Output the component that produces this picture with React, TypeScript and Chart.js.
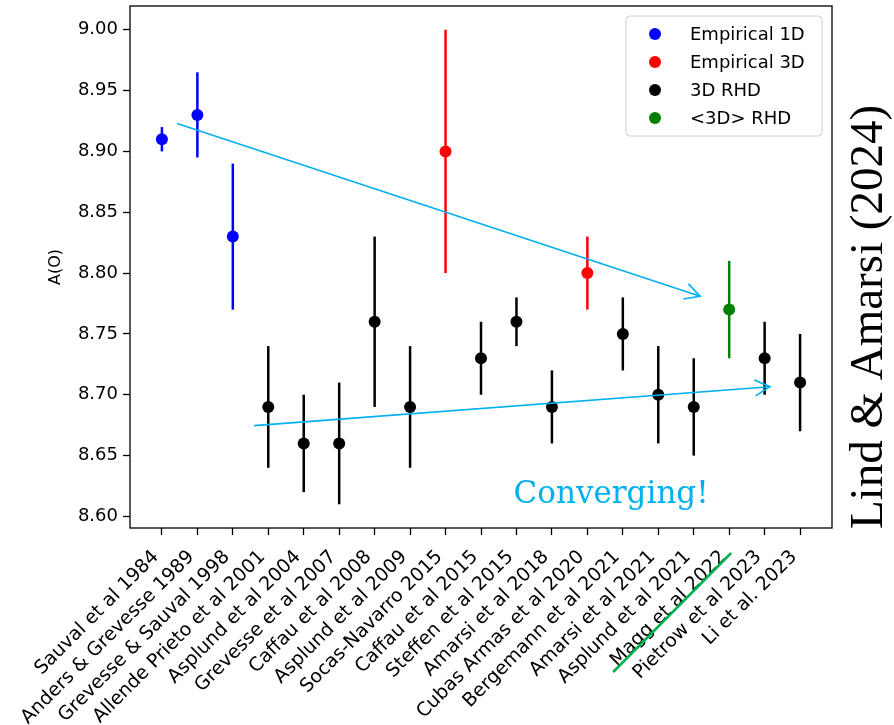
import React, { useEffect, useRef } from "react";
import { Chart, registerables } from "chart.js";

Chart.register(...registerables);

// ---------- data ----------
const categories = [
  "Sauval et al 1984",
  "Anders & Grevesse 1989",
  "Grevesse & Sauval 1998",
  "Allende Prieto et al 2001",
  "Asplund et al 2004",
  "Grevesse et al 2007",
  "Caffau et al 2008",
  "Asplund et al 2009",
  "Socas-Navarro 2015",
  "Caffau et al 2015",
  "Steffen et al 2015",
  "Amarsi et al 2018",
  "Cubas Armas et al 2020",
  "Bergemann et al 2021",
  "Amarsi et al 2021",
  "Asplund et al 2021",
  "Magg et al 2022",
  "Pietrow et al 2023",
  "Li et al. 2023",
];
const values = [8.91, 8.93, 8.83, 8.69, 8.66, 8.66, 8.76, 8.69, 8.9, 8.73, 8.76, 8.69, 8.8, 8.75, 8.7, 8.69, 8.77, 8.73, 8.71];
const errors = [0.01, 0.035, 0.06, 0.05, 0.04, 0.05, 0.07, 0.05, 0.1, 0.03, 0.02, 0.03, 0.03, 0.03, 0.04, 0.04, 0.04, 0.03, 0.04];
// series index of each category
const groups = [0, 0, 0, 2, 2, 2, 2, 2, 1, 2, 2, 2, 1, 2, 2, 2, 3, 2, 2];
const seriesNames = ["Empirical 1D", "Empirical 3D", "3D RHD", "<3D> RHD"];
const seriesColors = ["#0000ff", "#ff0000", "#000000", "#008000"];
const yTickValues = [8.6, 8.65, 8.7, 8.75, 8.8, 8.85, 8.9, 8.95, 9.0];
const yLimits = [8.5905, 9.0195];
const xLimits = [-0.9, 18.9];
const yAxisTitle = "A(O)";

// annotations (data coordinates)
const trendDown = { from: [0.43, 8.923], to: [15.18, 8.781] };
const trendUp = { from: [2.6, 8.6746], to: [17.15, 8.7066] };
const convergingLabel = { text: "Converging!", x: 12.67, y: 8.611 };
const creditText = "Lind & Amarsi (2024)";
const struckLabel = "Magg et al 2022";

const ACCENT = "#00b0f0";

function drawArrow(ctx: CanvasRenderingContext2D, x1: number, y1: number, x2: number, y2: number) {
  ctx.beginPath();
  ctx.moveTo(x1, y1);
  ctx.lineTo(x2, y2);
  ctx.stroke();
  const ang = Math.atan2(y2 - y1, x2 - x1);
  const len = 17;
  const spread = (28 * Math.PI) / 180;
  ctx.beginPath();
  ctx.moveTo(x2 - len * Math.cos(ang - spread), y2 - len * Math.sin(ang - spread));
  ctx.lineTo(x2, y2);
  ctx.lineTo(x2 - len * Math.cos(ang + spread), y2 - len * Math.sin(ang + spread));
  ctx.stroke();
}

const errorBarPlugin = {
  id: "errorBars",
  beforeDatasetsDraw(chart: any) {
    const { ctx, scales } = chart;
    const x = scales.x;
    const y = scales.y;
    ctx.save();
    ctx.lineWidth = 2.5;
    values.forEach((v, i) => {
      const px = x.getPixelForValue(i);
      ctx.strokeStyle = seriesColors[groups[i]];
      ctx.beginPath();
      ctx.moveTo(px, y.getPixelForValue(v - errors[i]));
      ctx.lineTo(px, y.getPixelForValue(v + errors[i]));
      ctx.stroke();
    });
    ctx.restore();
  },
};

const decorPlugin = {
  id: "decor",
  afterDraw(chart: any) {
    const { ctx, chartArea, scales } = chart;
    const x = scales.x;
    const y = scales.y;
    ctx.save();

    // frame
    ctx.strokeStyle = "#000";
    ctx.lineWidth = 1.3;
    ctx.strokeRect(chartArea.left, chartArea.top, chartArea.right - chartArea.left, chartArea.bottom - chartArea.top);

    // trend arrows
    ctx.strokeStyle = ACCENT;
    ctx.lineWidth = 1.6;
    [trendDown, trendUp].forEach((a) => {
      drawArrow(
        ctx,
        x.getPixelForValue(a.from[0]),
        y.getPixelForValue(a.from[1]),
        x.getPixelForValue(a.to[0]),
        y.getPixelForValue(a.to[1])
      );
    });

    // Converging!
    ctx.fillStyle = ACCENT;
    ctx.font = "31px 'DejaVu Serif'";
    ctx.textAlign = "center";
    ctx.textBaseline = "alphabetic";
    ctx.fillText(convergingLabel.text, x.getPixelForValue(convergingLabel.x), y.getPixelForValue(convergingLabel.y));

    // credit text on the right
    ctx.save();
    ctx.fillStyle = "#000";
    ctx.font = "47px 'Liberation Serif'";
    ctx.translate(chartArea.right + 50, (chartArea.top + chartArea.bottom) / 2 + 50);
    ctx.rotate(-Math.PI / 2);
    ctx.textAlign = "center";
    ctx.textBaseline = "alphabetic";
    ctx.fillText(creditText, 0, 0);
    ctx.restore();

    // strike through struck label
    const si = categories.indexOf(struckLabel);
    if (si >= 0) {
      const tx = x.getPixelForValue(si);
      ctx.strokeStyle = "#00b050";
      ctx.lineWidth = 2.5;
      ctx.beginPath();
      ctx.moveTo(tx + 2, chartArea.bottom + 25);
      ctx.lineTo(tx - 116, chartArea.bottom + 144);
      ctx.stroke();
    }

    // legend
    const bw = 196;
    const bh = 120;
    const bx = chartArea.right - 10 - bw;
    const by = chartArea.top + 10;
    ctx.beginPath();
    ctx.roundRect(bx, by, bw, bh, 4);
    ctx.fillStyle = "rgba(255,255,255,0.8)";
    ctx.fill();
    ctx.strokeStyle = "#d0d0d0";
    ctx.lineWidth = 1;
    ctx.stroke();
    ctx.font = "18px 'DejaVu Sans'";
    ctx.textAlign = "left";
    ctx.textBaseline = "middle";
    seriesNames.forEach((name, i) => {
      const cy = by + 18 + i * 28;
      ctx.fillStyle = seriesColors[i];
      ctx.beginPath();
      ctx.arc(bx + 29, cy, 6, 0, Math.PI * 2);
      ctx.fill();
      ctx.fillStyle = "#000";
      ctx.fillText(name, bx + 64, cy + 1);
    });

    ctx.restore();
  },
};

export default function App() {
  const canvasRef = useRef<HTMLCanvasElement | null>(null);

  useEffect(() => {
    const canvas = canvasRef.current;
    if (!canvas) return;
    const datasets = seriesNames.map((name, g) => ({
      label: name,
      data: values
        .map((v, i) => ({ x: i, y: v, g: groups[i] }))
        .filter((p) => p.g === g)
        .map((p) => ({ x: p.x, y: p.y })),
      backgroundColor: seriesColors[g],
      borderColor: seriesColors[g],
      pointRadius: 6,
      pointBorderWidth: 0,
      showLine: false,
    }));

    const chart = new Chart(canvas, {
      type: "scatter",
      data: { datasets },
      options: {
        animation: false,
        responsive: false,
        maintainAspectRatio: false,
        devicePixelRatio: 1,
        layout: { padding: { top: 5, right: 62, left: 0, bottom: 0 } },
        plugins: {
          legend: { display: false },
          tooltip: { enabled: false },
        },
        scales: {
          x: {
            type: "linear",
            min: xLimits[0],
            max: xLimits[1],
            afterBuildTicks: (scale: any) => {
              scale.ticks = categories.map((_, i) => ({ value: i }));
            },
            afterFit: (scale: any) => {
              scale.height = 197;
              scale.paddingLeft = 0;
              scale.paddingRight = 0;
            },
            border: { display: false },
            grid: {
              display: true,
              drawOnChartArea: false,
              drawTicks: true,
              tickLength: 7,
              tickWidth: 1.3,
              tickColor: "#000",
            },
            ticks: {
              autoSkip: false,
              minRotation: 45,
              maxRotation: 45,
              padding: 11,
              labelOffset: -6,
              color: "#000",
              font: { family: "'DejaVu Sans'", size: 19 },
              callback: (v: any) => categories[Math.round(Number(v))] ?? "",
            },
          },
          y: {
            type: "linear",
            min: yLimits[0],
            max: yLimits[1],
            afterBuildTicks: (scale: any) => {
              scale.ticks = yTickValues.map((v) => ({ value: v }));
            },
            afterFit: (scale: any) => {
              scale.width = 130;
              scale.paddingTop = 0;
              scale.paddingBottom = 0;
            },
            border: { display: false },
            grid: {
              display: true,
              drawOnChartArea: false,
              drawTicks: true,
              tickLength: 7,
              tickWidth: 1.3,
              tickColor: "#000",
            },
            title: {
              display: true,
              text: yAxisTitle,
              color: "#000",
              font: { family: "'DejaVu Sans'", size: 16 },
              padding: { top: 46, bottom: 0 },
            },
            ticks: {
              padding: 5,
              color: "#000",
              font: { family: "'DejaVu Sans'", size: 18 },
              callback: (v: any) => Number(v).toFixed(2),
            },
          },
        },
      },
      plugins: [errorBarPlugin, decorPlugin],
    } as any);

    return () => chart.destroy();
  }, []);

  return (
    <div style={{ position: "absolute", left: 0, top: 0, width: 894, height: 725, background: "#fff" }}>
      <canvas ref={canvasRef} width={894} height={725} style={{ display: "block" }} />
    </div>
  );
}
